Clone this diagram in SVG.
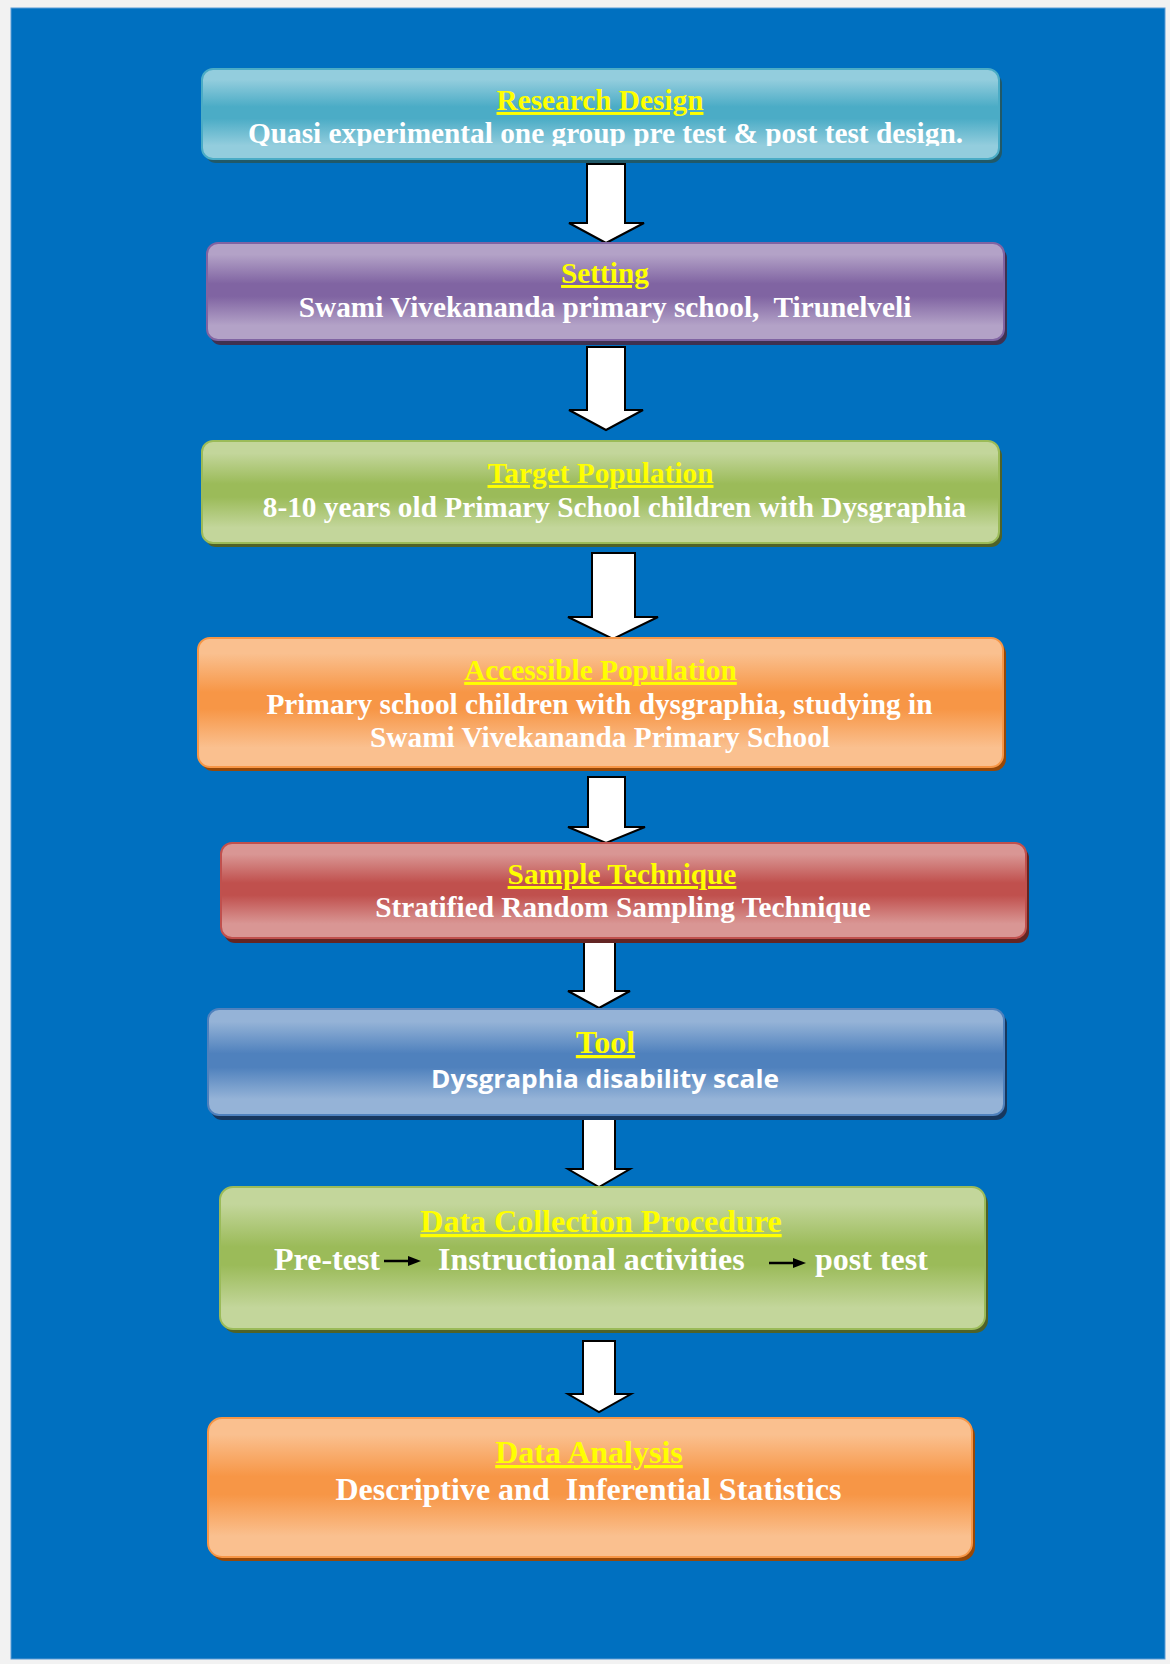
<svg xmlns="http://www.w3.org/2000/svg" width="1170" height="1664" viewBox="0 0 1170 1664">
<style>
.t{font-family:"Liberation Serif","Times New Roman",serif;font-weight:bold;fill:#ffffff;font-size:29.3px;text-anchor:middle}
.h{fill:#ffff00;text-decoration:underline}
.big{font-size:32px}
.st{text-anchor:start}
.pre{white-space:pre}
.sans{font-family:"Open Sans","Liberation Sans",sans-serif;font-size:25px}
.arr{fill:#ffffff;stroke:#000000;stroke-width:2;stroke-linejoin:miter}
.sa{stroke:#000;stroke-width:2.5;fill:none}
</style>
<defs>
<linearGradient id="gTeal" x1="0" y1="0" x2="0" y2="1"><stop offset="0" stop-color="#93cddd"/><stop offset="0.12" stop-color="#93cddd"/><stop offset="0.42" stop-color="#4bacc6"/><stop offset="0.55" stop-color="#4bacc6"/><stop offset="0.85" stop-color="#93cddd"/><stop offset="1" stop-color="#93cddd"/></linearGradient>
<linearGradient id="gPurple" x1="0" y1="0" x2="0" y2="1"><stop offset="0" stop-color="#b3a2c7"/><stop offset="0.12" stop-color="#b3a2c7"/><stop offset="0.42" stop-color="#8064a2"/><stop offset="0.55" stop-color="#8064a2"/><stop offset="0.85" stop-color="#b3a2c7"/><stop offset="1" stop-color="#b3a2c7"/></linearGradient>
<linearGradient id="gGreen" x1="0" y1="0" x2="0" y2="1"><stop offset="0" stop-color="#c3d69b"/><stop offset="0.12" stop-color="#c3d69b"/><stop offset="0.42" stop-color="#9bbb59"/><stop offset="0.55" stop-color="#9bbb59"/><stop offset="0.85" stop-color="#c3d69b"/><stop offset="1" stop-color="#c3d69b"/></linearGradient>
<linearGradient id="gOrange" x1="0" y1="0" x2="0" y2="1"><stop offset="0" stop-color="#fac08f"/><stop offset="0.12" stop-color="#fac08f"/><stop offset="0.42" stop-color="#f79646"/><stop offset="0.55" stop-color="#f79646"/><stop offset="0.85" stop-color="#fac08f"/><stop offset="1" stop-color="#fac08f"/></linearGradient>
<linearGradient id="gRed" x1="0" y1="0" x2="0" y2="1"><stop offset="0" stop-color="#d99694"/><stop offset="0.12" stop-color="#d99694"/><stop offset="0.42" stop-color="#c0504d"/><stop offset="0.55" stop-color="#c0504d"/><stop offset="0.85" stop-color="#d99694"/><stop offset="1" stop-color="#d99694"/></linearGradient>
<linearGradient id="gBlue" x1="0" y1="0" x2="0" y2="1"><stop offset="0" stop-color="#95b3d7"/><stop offset="0.12" stop-color="#95b3d7"/><stop offset="0.42" stop-color="#4f81bd"/><stop offset="0.55" stop-color="#4f81bd"/><stop offset="0.85" stop-color="#95b3d7"/><stop offset="1" stop-color="#95b3d7"/></linearGradient>
<clipPath id="clip1"><rect x="200" y="60" width="800" height="86"/></clipPath>
</defs>

<rect x="0" y="0" width="1170" height="1664" fill="#f2f2f2"/>
<rect x="11" y="8" width="1154" height="1651" fill="#0070c0" stroke="#5b9bd5" stroke-width="1"/>

<g id="connectors">
<path class="arr" d="M587,164 H625 V223 H644 L606,243 L569,223 H587 Z"/>
<path class="arr" d="M587,347 H625 V410 H643 L606,430 L569,410 H587 Z"/>
<path class="arr" d="M592,553 H635 V617 H658 L613,639 L568,617 H592 Z"/>
<path class="arr" d="M588,777 H625 V827 H645 L606,843 L568,827 H588 Z"/>
<path class="arr" d="M584,938 H615 V991 H630 L599,1008 L568,991 H584 Z"/>
<path class="arr" d="M583,1115 H615 V1169 H630 L599,1187 L568,1169 H583 Z"/>
<path class="arr" d="M583,1341 H615 V1394 H631 L599,1412 L568,1394 H583 Z"/>
</g>

<g id="node-research-design">
<rect x="205" y="73" width="797" height="90" rx="11" fill="#215968"/>
<rect x="202" y="69" width="797" height="90" rx="11" fill="url(#gTeal)" stroke="#4bacc6" stroke-width="2"/>
<text class="t h" x="600" y="110">Research Design</text>
<text class="t" x="605.5" y="143" clip-path="url(#clip1)">Quasi experimental one group pre test &amp; post test design.</text>
</g>

<g id="node-setting">
<rect x="210" y="247" width="797" height="98" rx="11" fill="#3f3151"/>
<rect x="207" y="243" width="797" height="97" rx="11" fill="url(#gPurple)" stroke="#8064a2" stroke-width="2"/>
<text class="t h" x="605" y="283">Setting</text>
<text class="t pre" xml:space="preserve" x="605" y="317">Swami Vivekananda primary school,  Tirunelveli</text>
</g>

<g id="node-target-population">
<rect x="205" y="445" width="797" height="102" rx="11" fill="#4f6228"/>
<rect x="202" y="441" width="797" height="102" rx="11" fill="url(#gGreen)" stroke="#9bbb59" stroke-width="2"/>
<text class="t h" x="600.5" y="483">Target Population</text>
<text class="t" x="614.5" y="517">8-10 years old Primary School children with Dysgraphia</text>
</g>

<g id="node-accessible-population">
<rect x="201" y="642" width="805" height="129" rx="12" fill="#984807"/>
<rect x="198" y="638" width="805" height="129" rx="12" fill="url(#gOrange)" stroke="#f79646" stroke-width="2"/>
<text class="t h" x="600.5" y="680">Accessible Population</text>
<text class="t" x="599.5" y="714">Primary school children with dysgraphia, studying in</text>
<text class="t" x="600" y="747">Swami Vivekananda Primary School</text>
</g>

<g id="node-sample-technique">
<rect x="224" y="847" width="805" height="96" rx="11" fill="#632523"/>
<rect x="221" y="843" width="805" height="95" rx="11" fill="url(#gRed)" stroke="#c0504d" stroke-width="2"/>
<text class="t h" x="622" y="884">Sample Technique</text>
<text class="t" x="623" y="917">Stratified Random Sampling Technique</text>
</g>

<g id="node-tool">
<rect x="211" y="1013" width="796" height="107" rx="11" fill="#17375e"/>
<rect x="208" y="1009" width="796" height="106" rx="11" fill="url(#gBlue)" stroke="#4f81bd" stroke-width="2"/>
<text class="t h big" x="605.5" y="1053">Tool</text>
<text class="t sans" x="605" y="1088" textLength="348" lengthAdjust="spacingAndGlyphs">Dysgraphia disability scale</text>
</g>

<g id="node-data-collection">
<rect x="223" y="1191" width="765" height="142" rx="13" fill="#4f6228"/>
<rect x="220" y="1187" width="765" height="142" rx="13" fill="url(#gGreen)" stroke="#9bbb59" stroke-width="2"/>
<text class="t h big" x="601" y="1232">Data Collection Procedure</text>
<text class="t big st" x="274" y="1270">Pre-test</text>
<line class="sa" x1="384" y1="1261" x2="410" y2="1261"/>
<path d="M408,1256 L421,1261 L408,1266 Z" fill="#000"/>
<text class="t big st" x="438" y="1270">Instructional activities</text>
<line class="sa" x1="769" y1="1263" x2="795" y2="1263"/>
<path d="M793,1258 L806,1263 L793,1268 Z" fill="#000"/>
<text class="t big st" x="815" y="1270">post test</text>
</g>

<g id="node-data-analysis">
<rect x="211" y="1422" width="764" height="139" rx="14" fill="#984807"/>
<rect x="208" y="1418" width="764" height="139" rx="14" fill="url(#gOrange)" stroke="#f79646" stroke-width="2"/>
<text class="t h big" x="589" y="1463">Data Analysis</text>
<text class="t big pre" xml:space="preserve" x="588.5" y="1500">Descriptive and  Inferential Statistics</text>
</g>
</svg>
